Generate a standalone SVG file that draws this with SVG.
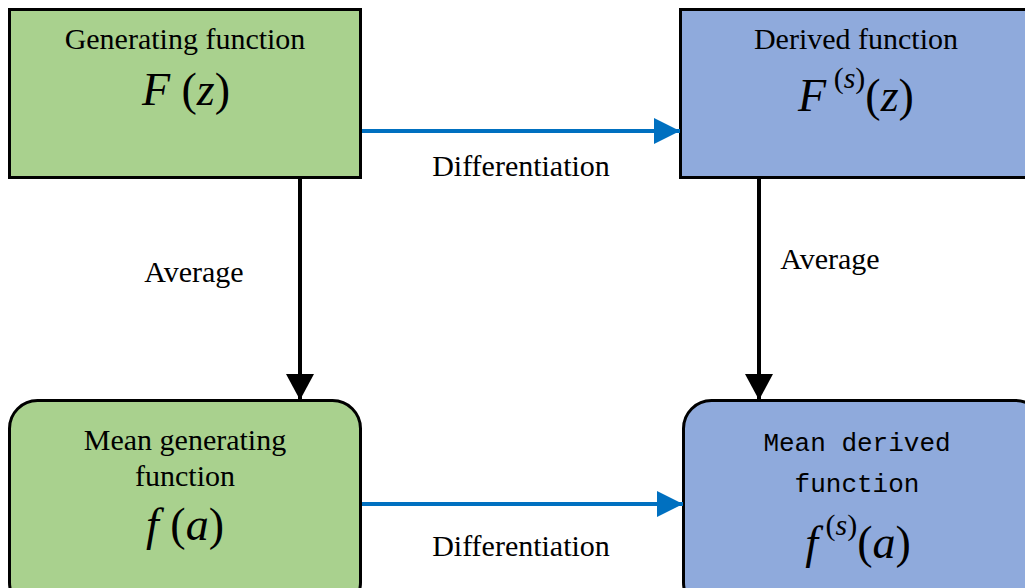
<svg xmlns="http://www.w3.org/2000/svg" width="1025" height="588" viewBox="0 0 1025 588">
<style>
.t{font-family:'Liberation Serif','DejaVu Serif',serif;font-size:30px;fill:#000;text-anchor:middle}
.m{font-family:'Liberation Serif','DejaVu Serif',serif;font-size:46px;fill:#000;text-anchor:middle}
.i{font-style:italic}
.mono{font-family:'Liberation Mono','DejaVu Sans Mono',monospace;font-size:26px;fill:#000;text-anchor:middle}
.g{fill:#A9D18E;stroke:#000;stroke-width:3}
.b{fill:#8FAADC;stroke:#000;stroke-width:3}
.ab{stroke:#0070C0;stroke-width:4;fill:none}
.ak{stroke:#000;stroke-width:4;fill:none}
</style>
<defs>
<marker id="mb" markerUnits="userSpaceOnUse" markerWidth="26" markerHeight="26" refX="26" refY="13" orient="auto"><path d="M0,0 L26,13 L0,26 Z" fill="#0070C0"/></marker>
<marker id="mk" markerUnits="userSpaceOnUse" markerWidth="26" markerHeight="28" refX="26" refY="14" orient="auto"><path d="M0,0 L26,14 L0,28 Z" fill="#000"/></marker>
</defs>
<rect width="1025" height="588" fill="#fff"/>
<g id="n1">
<rect class="g" x="9.5" y="9.5" width="351" height="168"/>
<text class="t" x="185" y="49">Generating function</text>
<text class="m" x="186" y="105"><tspan class="i">F</tspan> (<tspan class="i">z</tspan>)</text>
</g>
<g id="n2">
<rect class="b" x="680.5" y="9.5" width="360" height="168"/>
<text class="t" x="856" y="49">Derived function</text>
<text class="m" x="856" y="111"><tspan class="i">F</tspan><tspan dy="-23" font-size="30"> (<tspan class="i">s</tspan>)</tspan><tspan dy="23">(<tspan class="i">z</tspan>)</tspan></text>
</g>
<g id="n3">
<rect class="g" x="9.5" y="400.5" width="351" height="210" rx="28"/>
<text class="t" x="185" y="450">Mean generating</text>
<text class="t" x="185" y="486">function</text>
<text class="m" x="185" y="540"><tspan class="i">f</tspan> (<tspan class="i">a</tspan>)</text>
</g>
<g id="n4">
<rect class="b" x="683.5" y="400.5" width="360" height="210" rx="28"/>
<text class="mono" x="857" y="451">Mean derived</text>
<text class="mono" x="857" y="492">function</text>
<text class="m" x="858" y="558"><tspan class="i">f</tspan><tspan dy="-23" font-size="30"> (<tspan class="i">s</tspan>)</tspan><tspan dy="23">(<tspan class="i">a</tspan>)</tspan></text>
</g>
<g id="connectors">
<line class="ab" x1="362" y1="131" x2="680" y2="131" marker-end="url(#mb)"/>
<line class="ab" x1="362" y1="504" x2="683" y2="504" marker-end="url(#mb)"/>
<line class="ak" x1="300" y1="179" x2="300" y2="400" marker-end="url(#mk)"/>
<line class="ak" x1="759" y1="179" x2="759" y2="400" marker-end="url(#mk)"/>
<text class="t" x="521" y="176">Differentiation</text>
<text class="t" x="521" y="556">Differentiation</text>
<text class="t" x="194" y="282">Average</text>
<text class="t" x="830" y="269">Average</text>
</g>
</svg>
